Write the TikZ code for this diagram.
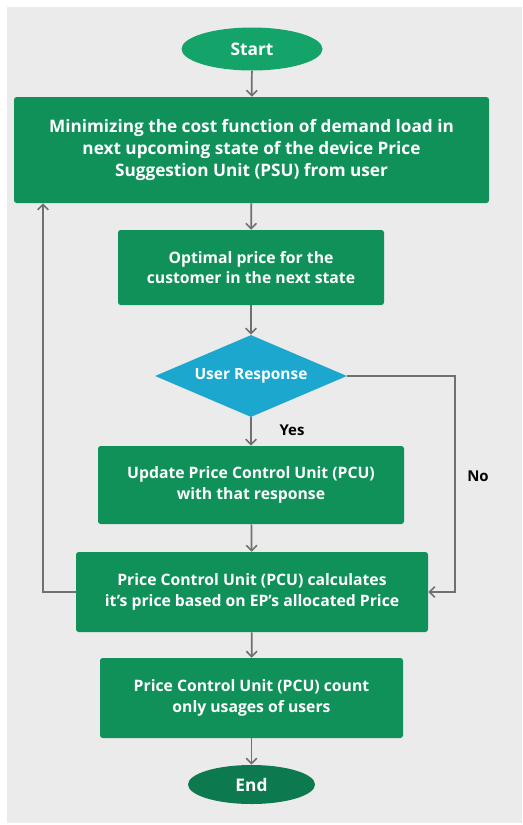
\documentclass[tikz,border=0pt]{standalone}
\usepackage{xcolor}
\usepackage{fontspec}
\setmainfont{Open Sans}
\usetikzlibrary{shapes.geometric,arrows.meta}

\definecolor{bgGray}{RGB}{235,235,235}
\definecolor{boxGreen}{RGB}{16,145,90}
\definecolor{startGreen}{RGB}{20,164,106}
\definecolor{endGreen}{RGB}{12,122,78}
\definecolor{diamBlue}{RGB}{27,167,206}
\definecolor{lineGray}{RGB}{112,112,112}

\tikzset{
  stepbox/.style={draw=none,fill=boxGreen,rounded corners=2pt,text=white,align=center,font=\bfseries\fontsize{11.8}{15.5}\selectfont,inner sep=0pt},
  term/.style={ellipse,draw=none,text=white,inner sep=0pt,font=\bfseries\fontsize{13}{15}\selectfont},
  flow/.style={draw=lineGray,line width=1.3pt,-{Straight Barb[length=4pt,width=8pt,line width=1.2pt]}},
  tag/.style={font=\bfseries\fontsize{11.2}{13}\selectfont}
}

\begin{document}
\begin{tikzpicture}[x=0.75pt,y=0.75pt,yscale=-1,xscale=1]
\useasboundingbox (0,0) rectangle (522,825);
%Shape: Background
\fill[bgGray] (7,7) rectangle (522,823);

% Terminal Node
\node (start) [term,fill=startGreen,minimum width=141*0.75pt,minimum height=43*0.75pt] at (252,49) {Start};
%Shape: Rectangle
\node (minimize) [stepbox,font=\bfseries\fontsize{12.9}{16.5}\selectfont,minimum width=475*0.75pt,minimum height=106*0.75pt] at (251.5,150) {Minimizing the cost function of demand load in\\ next upcoming state of the device Price\\ Suggestion Unit (PSU) from user};
%Shape: Rectangle
\node (optimal) [stepbox,minimum width=266*0.75pt,minimum height=75*0.75pt] at (251,267.5) {Optimal price for the\\ customer in the next state};
%Shape: Diamond
\node (response) [diamond,fill=diamBlue,text=white,font=\bfseries\fontsize{11.6}{13}\selectfont,minimum width=192*0.75pt,minimum height=82*0.75pt,inner sep=0pt,aspect=2.34] at (251,376) {User Response};
%Shape: Rectangle
\node (update) [stepbox,minimum width=306*0.75pt,minimum height=78*0.75pt] at (251,485) {Update Price Control Unit (PCU)\\ with that response};
%Shape: Rectangle
\node (pcu) [stepbox,minimum width=352*0.75pt,minimum height=80*0.75pt] at (252,592) {Price Control Unit (PCU) calculates\\ it's price based on EP's allocated Price};
%Shape: Rectangle
\node (count) [stepbox,minimum width=303*0.75pt,minimum height=80*0.75pt] at (251.5,698) {Price Control Unit (PCU) count\\ only usages of users};
% Terminal Node
\node (end) [term,fill=endGreen,minimum width=127*0.75pt,minimum height=39*0.75pt] at (251.5,784.5) {End};

% Text Node
\node (yes) [tag] at (292,430) {Yes};
% Text Node
\node (no) [tag] at (478,476) {No};

%Helper points
\coordinate (noturn) at (455,376);
\coordinate (loopturn) at (43,592);

%Straight Lines
\draw[flow] (start) -- (minimize);
\draw[flow] (minimize) -- (optimal);
\draw[flow] (optimal) -- (response);
\draw[flow] (response) -- (update);
\draw[flow] (update) -- (pcu);
\draw[flow] (pcu) -- (count);
\draw[flow] (count) -- (end);
%Loop Lines
\draw[flow] (response.east) -- (noturn) |- (pcu.east);
\draw[flow] (pcu.west) -- (loopturn) -- (loopturn |- minimize.south);

\end{tikzpicture}
\end{document}
